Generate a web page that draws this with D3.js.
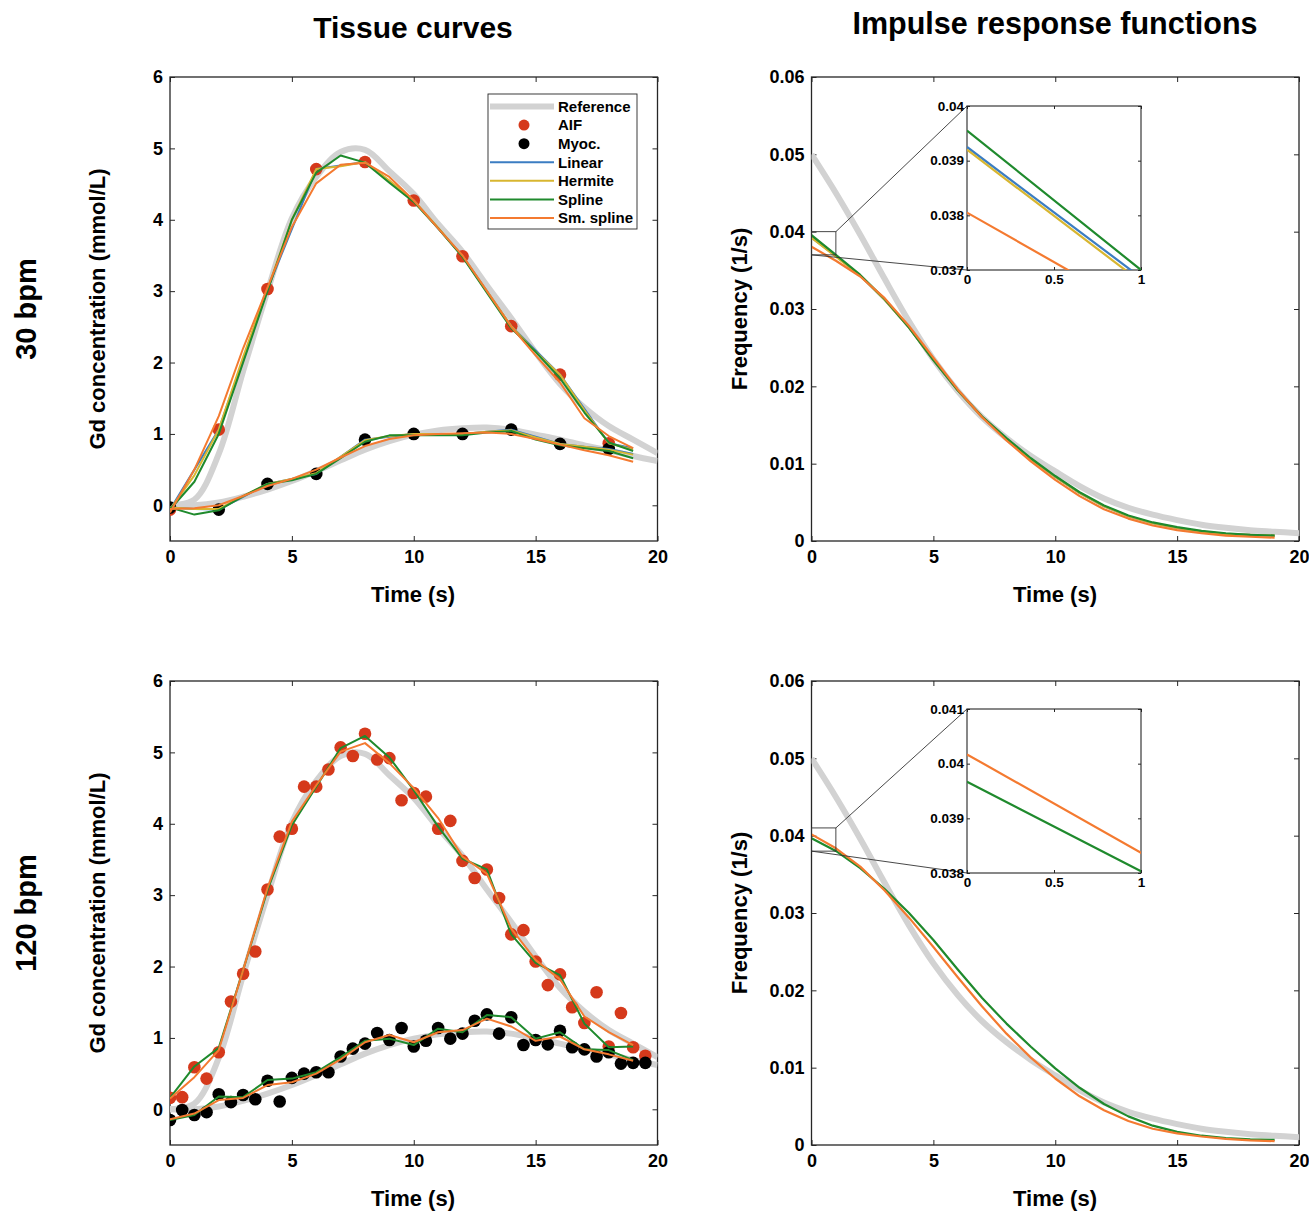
<!DOCTYPE html>
<html>
<head>
<meta charset="utf-8">
<script src="https://cdn.jsdelivr.net/npm/d3@7"></script>
<style>
  html, body { margin: 0; padding: 0; background: #fff; }
  svg text { font-family: "Liberation Sans", Arial, Helvetica, sans-serif; font-weight: bold; fill: #000; }
</style>
</head>
<body>
<script>
// ---------- Data ----------
// Time grids (s)
const tFit = d3.range(0, 20, 1);            // fitted / interpolated curves, 0..19 s
const tRef = d3.range(0, 21, 1);            // reference curves, 0..20 s
const tSample30 = d3.range(0, 20, 2);       // 30 bpm sampling
const tSample120 = d3.range(0, 20, 0.5);    // 120 bpm sampling

// Reference (ground truth) tissue curves
const refAIF  = [0.0, 0.08, 0.72, 1.88, 3.0, 4.02, 4.6, 4.95, 4.98, 4.68, 4.36, 3.94, 3.55, 3.08, 2.62, 2.14, 1.7, 1.37, 1.11, 0.92, 0.73];
const refMyoc = [0.0, 0.0, 0.04, 0.12, 0.22, 0.34, 0.48, 0.63, 0.78, 0.9, 0.99, 1.05, 1.08, 1.09, 1.06, 0.99, 0.92, 0.84, 0.77, 0.69, 0.62];

// 30 bpm samples
const aif30  = [-0.06, 1.06, 3.03, 4.71, 4.81, 4.27, 3.49, 2.51, 1.83, 0.87];
const myoc30 = [-0.03, -0.06, 0.30, 0.44, 0.92, 1.0, 1.0, 1.06, 0.86, 0.79];

// 30 bpm fitted tissue curves
const aif30Linear  = [-0.06, 0.50, 1.06, 2.05, 3.03, 3.87, 4.71, 4.76, 4.81, 4.54, 4.27, 3.88, 3.49, 3.00, 2.51, 2.17, 1.83, 1.35, 0.87, 0.80];
const aif30Hermite = [-0.06, 0.42, 1.06, 2.08, 3.03, 4.00, 4.71, 4.75, 4.81, 4.55, 4.27, 3.89, 3.49, 3.00, 2.51, 2.15, 1.83, 1.33, 0.87, 0.78];
const aif30Spline  = [-0.06, 0.33, 1.00, 2.00, 3.00, 4.00, 4.66, 4.90, 4.80, 4.52, 4.25, 3.88, 3.48, 2.98, 2.48, 2.15, 1.78, 1.30, 0.88, 0.76];
const aif30Smooth  = [-0.10, 0.50, 1.25, 2.20, 3.05, 3.90, 4.51, 4.77, 4.80, 4.60, 4.27, 3.88, 3.50, 3.00, 2.50, 2.10, 1.72, 1.22, 0.97, 0.80];
const myoc30Linear  = [-0.03, -0.05, -0.06, 0.12, 0.30, 0.37, 0.44, 0.68, 0.92, 0.96, 1.00, 1.00, 1.00, 1.03, 1.06, 0.96, 0.86, 0.82, 0.79, 0.72];
const myoc30Hermite = [-0.03, -0.05, -0.05, 0.13, 0.30, 0.37, 0.45, 0.68, 0.91, 0.97, 1.00, 1.00, 1.00, 1.03, 1.05, 0.95, 0.86, 0.82, 0.78, 0.71];
const myoc30Spline  = [-0.03, -0.13, -0.07, 0.13, 0.30, 0.35, 0.44, 0.66, 0.89, 0.98, 0.98, 0.98, 0.98, 1.02, 1.04, 0.92, 0.84, 0.80, 0.76, 0.66];
const myoc30Smooth  = [-0.05, -0.04, 0.00, 0.13, 0.27, 0.37, 0.50, 0.67, 0.83, 0.93, 0.98, 1.00, 1.01, 1.02, 1.00, 0.93, 0.85, 0.77, 0.70, 0.61];

// 120 bpm samples
const aif120  = [0.16, 0.17, 0.59, 0.43, 0.80, 1.51, 1.90, 2.21, 3.08, 3.82, 3.93, 4.52, 4.52, 4.76, 5.07, 4.95, 5.26, 4.90, 4.92, 4.33,
                 4.43, 4.38, 3.93, 4.04, 3.48, 3.24, 3.36, 2.96, 2.45, 2.51, 2.07, 1.74, 1.89, 1.43, 1.21, 1.64, 0.88, 1.35, 0.87, 0.75];
const myoc120 = [-0.15, -0.01, -0.08, -0.04, 0.21, 0.10, 0.20, 0.14, 0.40, 0.11, 0.44, 0.50, 0.52, 0.52, 0.74, 0.85, 0.92, 1.07, 0.97, 1.14,
                 0.88, 0.96, 1.14, 0.99, 1.06, 1.24, 1.33, 1.06, 1.29, 0.90, 0.97, 0.91, 1.10, 0.87, 0.84, 0.74, 0.80, 0.64, 0.65, 0.65];

// 120 bpm fitted tissue curves
const aif120Spline  = [0.16, 0.60, 0.86, 1.95, 3.07, 3.98, 4.52, 5.06, 5.23, 4.93, 4.47, 3.96, 3.51, 3.36, 2.45, 2.05, 1.88, 1.20, 0.87, 0.88];
const aif120Smooth  = [0.15, 0.45, 0.83, 1.95, 3.10, 4.03, 4.54, 5.01, 5.13, 4.85, 4.50, 4.08, 3.54, 3.30, 2.53, 2.09, 1.82, 1.30, 1.08, 0.90];
const myoc120Spline = [-0.15, -0.08, 0.18, 0.17, 0.41, 0.43, 0.52, 0.73, 0.96, 0.99, 0.90, 1.13, 1.08, 1.32, 1.29, 0.99, 1.08, 0.84, 0.83, 0.69];
const myoc120Smooth = [-0.14, -0.06, 0.13, 0.16, 0.34, 0.38, 0.50, 0.70, 0.94, 1.04, 0.94, 1.08, 1.11, 1.27, 1.16, 0.96, 1.02, 0.84, 0.77, 0.68];

// Impulse response functions (1/s)
const irfRef       = [0.0500, 0.0450, 0.0396, 0.0339, 0.0284, 0.0235, 0.0194, 0.0160, 0.0133, 0.0110, 0.0090, 0.0071, 0.0055, 0.0043, 0.0034, 0.0027, 0.0021, 0.0017, 0.0014, 0.0012, 0.0010];
const irf30Linear  = [0.03925, 0.03686, 0.0343, 0.0312, 0.0276, 0.0234, 0.0195, 0.0160, 0.0132, 0.0106, 0.0083, 0.0062, 0.0045, 0.0032, 0.0023, 0.0017, 0.0012, 0.0009, 0.0008, 0.0007];
const irf30Hermite = [0.03920, 0.03678, 0.0343, 0.0312, 0.0276, 0.0234, 0.0195, 0.0160, 0.0132, 0.0106, 0.0083, 0.0062, 0.0045, 0.0032, 0.0023, 0.0017, 0.0012, 0.0009, 0.0008, 0.0007];
const irf30Spline  = [0.03955, 0.03700, 0.0344, 0.0313, 0.0276, 0.0234, 0.0195, 0.0161, 0.0133, 0.0107, 0.0084, 0.0063, 0.0046, 0.0033, 0.0024, 0.0018, 0.0013, 0.0010, 0.0008, 0.0007];
const irf30Smooth  = [0.03805, 0.03624, 0.0342, 0.0314, 0.0278, 0.0237, 0.0196, 0.0160, 0.0130, 0.0103, 0.0079, 0.0058, 0.0041, 0.0029, 0.0020, 0.0014, 0.0010, 0.0007, 0.00055, 0.00043];
const irf120Spline = [0.03967, 0.03803, 0.0358, 0.0331, 0.0300, 0.0265, 0.0227, 0.0190, 0.0157, 0.0127, 0.0099, 0.0074, 0.0053, 0.0037, 0.0025, 0.0017, 0.0012, 0.0009, 0.00073, 0.00065];
const irf120Smooth = [0.04017, 0.03837, 0.0360, 0.0329, 0.0294, 0.0256, 0.0217, 0.0179, 0.0144, 0.0113, 0.0086, 0.0063, 0.0045, 0.0031, 0.0021, 0.0015, 0.0011, 0.0008, 0.0006, 0.0005];

// Tick values and labels
const timeTicks = [0, 5, 10, 15, 20];
const concTicks = [0, 1, 2, 3, 4, 5, 6];
const freqTicks = [0, 0.01, 0.02, 0.03, 0.04, 0.05, 0.06];
const freqTickLabels = ["0", "0.01", "0.02", "0.03", "0.04", "0.05", "0.06"];
const insetXTicks = [0, 0.5, 1];
const insetXTickLabels = ["0", "0.5", "1"];
const inset30Ticks = [0.037, 0.038, 0.039, 0.040];
const inset30TickLabels = ["0.037", "0.038", "0.039", "0.04"];
const inset120Ticks = [0.038, 0.039, 0.040, 0.041];
const inset120TickLabels = ["0.038", "0.039", "0.04", "0.041"];

const legendLabels = ["Reference", "AIF", "Myoc.", "Linear", "Hermite", "Spline", "Sm. spline"];

// ---------- Styles ----------
const C = {
  ref: "#d2d2d2", aif: "#d5391b", myoc: "#000000",
  linear: "#3b7dc2", hermite: "#d8b630", spline: "#1f8a2d", smooth: "#f47a30",
  axis: "#262626"
};

const W = 1309, H = 1211;
const svg = d3.select("body").append("svg").attr("width", W).attr("height", H);
svg.append("rect").attr("width", W).attr("height", H).attr("fill", "#fff");
const defs = svg.append("defs");
let clipCount = 0;

// Axes box with inward ticks on all four sides
function axesBox(box, xDomain, yDomain, opt) {
  const x = d3.scaleLinear().domain(xDomain).range([box.l, box.r]);
  const y = d3.scaleLinear().domain(yDomain).range([box.b, box.t]);
  const g = svg.append("g");
  const fs = opt.fontSize, tl = opt.tickLen;
  const xFmt = (d, i) => opt.xLabels ? opt.xLabels[i] : d3.format("~g")(d);
  const yFmt = (d, i) => opt.yLabels ? opt.yLabels[i] : d3.format("~g")(d);

  if (opt.background) {
    g.append("rect").attr("x", box.l).attr("y", box.t)
      .attr("width", box.r - box.l).attr("height", box.b - box.t).attr("fill", "#fff");
  }
  const style = sel => {
    sel.select(".domain").remove();
    sel.selectAll(".tick line").attr("stroke", C.axis).attr("stroke-width", 1);
    sel.selectAll(".tick text").attr("font-size", fs).attr("fill", "#000");
  };
  g.append("g").attr("transform", `translate(0,${box.b})`)
    .call(d3.axisBottom(x).tickValues(opt.xTicks).tickSizeInner(-tl).tickSizeOuter(0).tickPadding(opt.xPad).tickFormat(xFmt))
    .call(style);
  g.append("g").attr("transform", `translate(0,${box.t})`)
    .call(d3.axisTop(x).tickValues(opt.xTicks).tickSizeInner(-tl).tickSizeOuter(0).tickFormat(""))
    .call(style);
  g.append("g").attr("transform", `translate(${box.l},0)`)
    .call(d3.axisLeft(y).tickValues(opt.yTicks).tickSizeInner(-tl).tickSizeOuter(0).tickPadding(opt.yPad).tickFormat(yFmt))
    .call(style);
  g.append("g").attr("transform", `translate(${box.r},0)`)
    .call(d3.axisRight(y).tickValues(opt.yTicks).tickSizeInner(-tl).tickSizeOuter(0).tickFormat(""))
    .call(style);
  // let the stylesheet font apply instead of the axis default
  g.selectAll("g").attr("font-family", null).attr("font-size", null);
  g.append("rect").attr("x", box.l).attr("y", box.t)
    .attr("width", box.r - box.l).attr("height", box.b - box.t)
    .attr("fill", "none").attr("stroke", C.axis).attr("stroke-width", opt.frameWidth || 1.3);

  const id = "clip" + (clipCount++);
  defs.append("clipPath").attr("id", id).append("rect")
    .attr("x", box.l).attr("y", box.t).attr("width", box.r - box.l).attr("height", box.b - box.t);
  const plot = svg.append("g").attr("clip-path", `url(#${id})`);
  return { x, y, plot };
}

function drawLine(ax, ts, vs, color, width, curve) {
  const line = d3.line().x((d, i) => ax.x(ts[i])).y(d => ax.y(d)).curve(curve || d3.curveLinear);
  ax.plot.append("path").datum(vs).attr("d", line)
    .attr("fill", "none").attr("stroke", color).attr("stroke-width", width)
    .attr("stroke-linejoin", "round").attr("stroke-linecap", "butt");
}
function drawDots(ax, ts, vs, color, r) {
  ax.plot.append("g").selectAll("circle").data(vs).join("circle")
    .attr("cx", (d, i) => ax.x(ts[i])).attr("cy", d => ax.y(d)).attr("r", r).attr("fill", color);
}

function labelText(x, y, text, size, rotate) {
  const t = svg.append("text").attr("x", x).attr("y", y).attr("text-anchor", "middle")
    .attr("font-size", size).text(text);
  if (rotate) t.attr("transform", `rotate(-90,${x},${y})`);
  return t;
}

// ---------- Panel geometry ----------
const boxes = {
  TL: { l: 170, r: 657.5, t: 77, b: 541 },
  TR: { l: 811.5, r: 1299, t: 77, b: 541 },
  BL: { l: 170, r: 657.5, t: 681, b: 1145 },
  BR: { l: 811.5, r: 1299, t: 681, b: 1145 }
};
const mainOpt = { fontSize: 18, tickLen: 5, xPad: 9, yPad: 7 };
const refCurve = d3.curveCatmullRom.alpha(0.5);

// ---------- Tissue curves ----------
function tissuePanel(box, s) {
  const ax = axesBox(box, [0, 20], [-0.5, 6], Object.assign({ xTicks: timeTicks, yTicks: concTicks }, mainOpt));
  drawLine(ax, tRef, refAIF, C.ref, 6, refCurve);
  drawLine(ax, tRef, refMyoc, C.ref, 6, refCurve);
  drawDots(ax, s.tSample, s.aif, C.aif, 6.3);
  drawDots(ax, s.tSample, s.myoc, C.myoc, 6.3);
  s.fits.forEach(f => drawLine(ax, tFit, f.v, f.c, 2));
  labelText(413, box.b + 61, "Time (s)", 22);
  labelText(105, (box.t + box.b) / 2, "Gd concentration (mmol/L)", 22, true);
  return ax;
}

tissuePanel(boxes.TL, {
  tSample: tSample30, aif: aif30, myoc: myoc30,
  fits: [
    { v: aif30Linear, c: C.linear }, { v: myoc30Linear, c: C.linear },
    { v: aif30Hermite, c: C.hermite }, { v: myoc30Hermite, c: C.hermite },
    { v: aif30Spline, c: C.spline }, { v: myoc30Spline, c: C.spline },
    { v: aif30Smooth, c: C.smooth }, { v: myoc30Smooth, c: C.smooth }
  ]
});
tissuePanel(boxes.BL, {
  tSample: tSample120, aif: aif120, myoc: myoc120,
  fits: [
    { v: aif120Spline, c: C.spline }, { v: myoc120Spline, c: C.spline },
    { v: aif120Smooth, c: C.smooth }, { v: myoc120Smooth, c: C.smooth }
  ]
});

// ---------- Impulse response functions ----------
function irfPanel(box, fits, inset) {
  const ax = axesBox(box, [0, 20], [0, 0.06],
    Object.assign({ xTicks: timeTicks, yTicks: freqTicks, yLabels: freqTickLabels }, mainOpt));
  drawLine(ax, tRef, irfRef, C.ref, 6, refCurve);
  fits.forEach(f => drawLine(ax, tFit, f.v, f.c, 2.2));
  labelText(1055, box.b + 61, "Time (s)", 22);
  labelText(747, (box.t + box.b) / 2, "Frequency (1/s)", 22, true);

  // zoom rectangle and connector lines
  const zx0 = ax.x(0), zx1 = ax.x(1), zy0 = ax.y(inset.yDomain[0]), zy1 = ax.y(inset.yDomain[1]);
  svg.append("rect").attr("x", zx0).attr("y", zy1).attr("width", zx1 - zx0).attr("height", zy0 - zy1)
    .attr("fill", "none").attr("stroke", "#333").attr("stroke-width", 0.9);
  const ib = inset.box;
  svg.append("line").attr("x1", zx1).attr("y1", zy1).attr("x2", ib.l).attr("y2", ib.t)
    .attr("stroke", "#333").attr("stroke-width", 0.9);
  svg.append("line").attr("x1", zx0).attr("y1", zy0).attr("x2", ib.l).attr("y2", ib.b)
    .attr("stroke", "#333").attr("stroke-width", 0.9);

  // inset axes
  const iax = axesBox(ib, [0, 1], inset.yDomain, {
    xTicks: insetXTicks, xLabels: insetXTickLabels, yTicks: inset.yTicks, yLabels: inset.yLabels,
    fontSize: 13.5, tickLen: 3, xPad: 4, yPad: 3, background: true, frameWidth: 1.1
  });
  fits.forEach(f => drawLine(iax, tFit.slice(0, 3), f.v.slice(0, 3), f.c, 2.2));
}

irfPanel(boxes.TR, [
  { v: irf30Linear, c: C.linear }, { v: irf30Hermite, c: C.hermite },
  { v: irf30Spline, c: C.spline }, { v: irf30Smooth, c: C.smooth }
], {
  box: { l: 967, r: 1141, t: 106, b: 270 },
  yDomain: [0.037, 0.040], yTicks: inset30Ticks, yLabels: inset30TickLabels
});
irfPanel(boxes.BR, [
  { v: irf120Spline, c: C.spline }, { v: irf120Smooth, c: C.smooth }
], {
  box: { l: 967, r: 1141, t: 709, b: 873 },
  yDomain: [0.038, 0.041], yTicks: inset120Ticks, yLabels: inset120TickLabels
});

// ---------- Legend ----------
(function legend() {
  const lx = 488, ly = 94, lw = 149, lh = 135;
  const g = svg.append("g");
  g.append("rect").attr("x", lx).attr("y", ly).attr("width", lw).attr("height", lh)
    .attr("fill", "#fff").attr("stroke", C.axis).attr("stroke-width", 0.9);
  const kinds = [
    { type: "line", c: C.ref, w: 6 }, { type: "dot", c: C.aif }, { type: "dot", c: C.myoc },
    { type: "line", c: C.linear, w: 2 }, { type: "line", c: C.hermite, w: 2 },
    { type: "line", c: C.spline, w: 2 }, { type: "line", c: C.smooth, w: 2 }
  ];
  const rowY = d3.scaleLinear().domain([0, legendLabels.length - 1]).range([ly + 12.5, ly + 124]);
  legendLabels.forEach((lab, i) => {
    const yy = rowY(i), k = kinds[i];
    if (k.type === "line") {
      g.append("line").attr("x1", lx + 2).attr("x2", lx + 66).attr("y1", yy).attr("y2", yy)
        .attr("stroke", k.c).attr("stroke-width", k.w);
    } else {
      g.append("circle").attr("cx", lx + 36).attr("cy", yy).attr("r", 5.5).attr("fill", k.c);
    }
    g.append("text").attr("x", lx + 70).attr("y", yy + 5.3).attr("font-size", 15).text(lab);
  });
})();

// ---------- Titles ----------
labelText(413, 38, "Tissue curves", 30);
labelText(1055, 34, "Impulse response functions", 30.5);
labelText(36, 309, "30 bpm", 29, true);
labelText(36, 913, "120 bpm", 29, true);
</script>
</body>
</html>
